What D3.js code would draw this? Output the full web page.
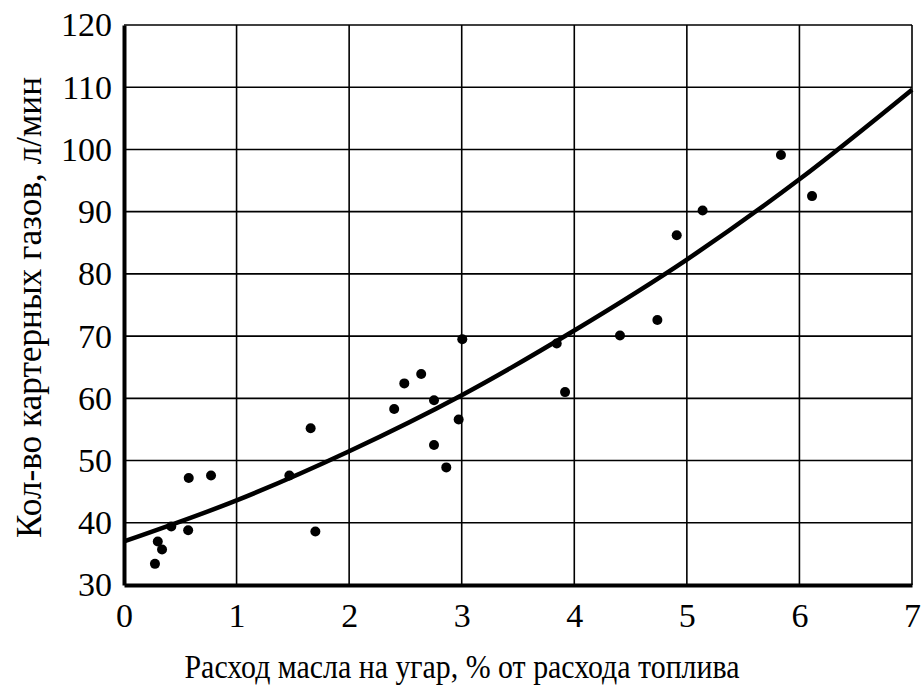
<!DOCTYPE html>
<html>
<head>
<meta charset="utf-8">
<script src="https://cdn.jsdelivr.net/npm/d3@7"></script>
<style>
  body { margin: 0; background: #fff; }
  svg { display: block; }
</style>
</head>
<body>
<svg id="chart" width="924" height="686"></svg>
<script>
// measured points
const xVals = [0.275, 0.30, 0.338, 0.42, 0.57, 0.575, 0.773, 1.469, 1.658, 1.70,
  2.40, 2.49, 2.64, 2.754, 2.754, 2.863, 2.973, 3.005, 3.844, 3.918,
  4.406, 4.738, 4.91, 5.14, 5.836, 6.112];
const yVals = [33.4, 37.0, 35.7, 39.4, 38.8, 47.2, 47.6, 47.6, 55.2, 38.6,
  58.3, 62.4, 63.9, 59.7, 52.5, 48.9, 56.6, 69.5, 68.8, 61.0,
  70.1, 72.6, 86.2, 90.2, 99.1, 92.5];

// trend line read at whole x values
const trendX = [0, 1, 2, 3, 4, 5, 6, 7];
const trendY = [37, 43.6, 51.5, 60.5, 70.9, 82.3, 95.2, 109.6];

const xTicks = [0, 1, 2, 3, 4, 5, 6, 7];
const yTicks = [30, 40, 50, 60, 70, 80, 90, 100, 110, 120];

const plotL = 124, plotR = 912, plotT = 25, plotB = 585;

// pick the first serif face that really exists (also warms the font up)
const ctx = document.createElement("canvas").getContext("2d");
const probe = "Расход масла 0123456789 mmwwlli";
function has(name) {
  return ["monospace", "sans-serif"].some(base => {
    ctx.font = "40px " + base;
    const w0 = ctx.measureText(probe).width;
    ctx.font = `40px "${name}", ${base}`;
    return ctx.measureText(probe).width !== w0;
  });
}
const candidates = ["Liberation Serif", "Times New Roman", "Tinos", "DejaVu Serif", "Noto Serif"];
const found = candidates.filter(has);
const serif = found.length ? `"${found[0]}", serif` : "serif";

const svg = d3.select("#chart").style("font-family", serif);

const x = d3.scaleLinear().domain([0, 7]).range([plotL, plotR]);
const y = d3.scaleLinear().domain([30, 120]).range([plotB, plotT]);

// grid
svg.append("g")
  .selectAll("line")
  .data(xTicks.slice(1))
  .enter()
  .append("line")
  .attr("x1", d => x(d)).attr("x2", d => x(d))
  .attr("y1", plotT).attr("y2", plotB)
  .attr("stroke", "#000").attr("stroke-width", 1.6);

svg.append("g")
  .selectAll("line")
  .data(yTicks.slice(1))
  .enter()
  .append("line")
  .attr("x1", plotL).attr("x2", plotR)
  .attr("y1", d => y(d)).attr("y2", d => y(d))
  .attr("stroke", "#000").attr("stroke-width", 1.6);

// axes
const xAxis = d3.axisBottom(x).tickValues(xTicks).tickFormat(d3.format("d"))
  .tickSize(0).tickPadding(18);
const yAxis = d3.axisLeft(y).tickValues(yTicks).tickFormat(d3.format("d"))
  .tickSize(0).tickPadding(12);

const gx = svg.append("g")
  .attr("transform", `translate(0,${plotB})`)
  .call(xAxis)
  .attr("font-family", serif)
  .attr("font-size", 34);
gx.select(".domain").attr("stroke-width", 4);

const gy = svg.append("g")
  .attr("transform", `translate(${plotL},0)`)
  .call(yAxis)
  .attr("font-family", serif)
  .attr("font-size", 34);
gy.select(".domain").attr("stroke-width", 4);

// trend curve
const line = d3.line()
  .x(d => x(d[0]))
  .y(d => y(d[1]))
  .curve(d3.curveMonotoneX);

svg.append("path")
  .datum(trendX.map((d, i) => [d, trendY[i]]))
  .attr("d", line)
  .attr("fill", "none")
  .attr("stroke", "#000")
  .attr("stroke-width", 4.5);

// points
svg.append("g")
  .selectAll("circle")
  .data(xVals.map((d, i) => [d, yVals[i]]))
  .enter()
  .append("circle")
  .attr("cx", d => x(d[0]))
  .attr("cy", d => y(d[1]))
  .attr("r", 5)
  .attr("fill", "#000");

// titles (x title is a bit condensed in the original)
svg.append("text")
  .attr("x", 462)
  .attr("y", 678)
  .attr("text-anchor", "middle")
  .attr("font-family", serif)
  .attr("font-size", 34)
  .attr("textLength", 555)
  .attr("lengthAdjust", "spacingAndGlyphs")
  .text("Расход масла на угар, % от расхода топлива");

svg.append("text")
  .attr("transform", "translate(41,307.5) rotate(-90)")
  .attr("text-anchor", "middle")
  .attr("font-family", serif)
  .attr("font-size", 35)
  .attr("textLength", 461)
  .attr("lengthAdjust", "spacingAndGlyphs")
  .text("Кол-во картерных газов, л/мин");
</script>
</body>
</html>
